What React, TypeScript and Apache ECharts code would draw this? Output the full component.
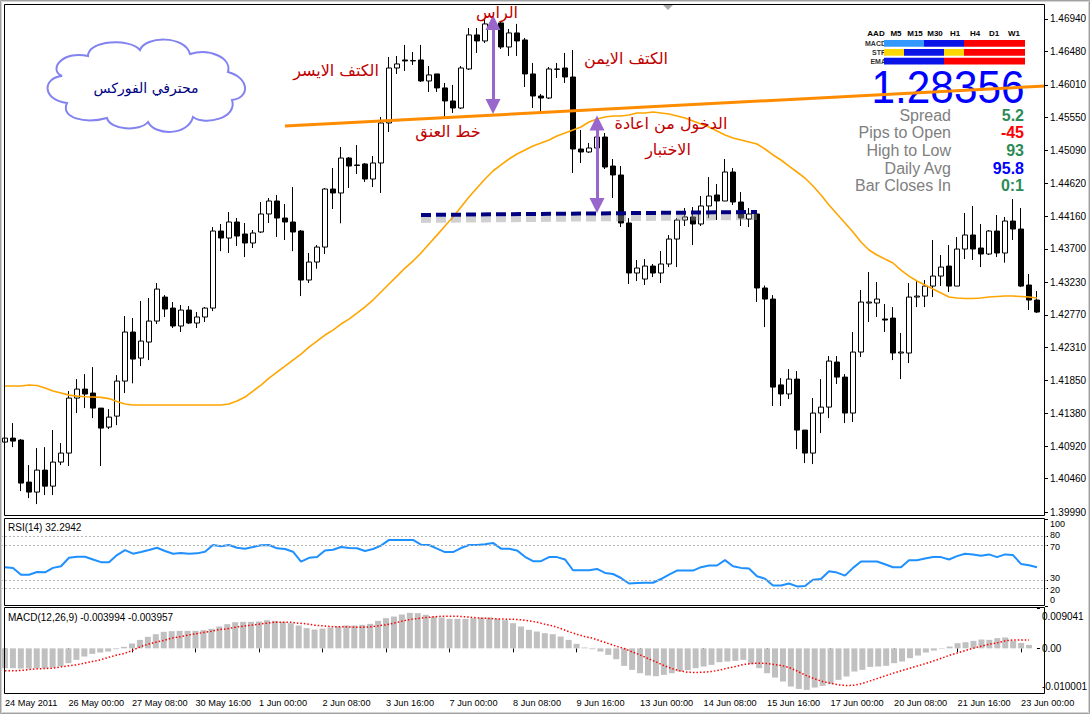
import React, { useEffect, useRef } from "react";
import * as echarts from "echarts";

// ---------- data ----------
const xTickLabels = [
  "24 May 2011", "26 May 00:00", "27 May 08:00", "30 May 16:00", "1 Jun 00:00",
  "2 Jun 08:00", "3 Jun 16:00", "7 Jun 00:00", "8 Jun 08:00", "9 Jun 16:00",
  "13 Jun 00:00", "14 Jun 08:00", "15 Jun 16:00", "17 Jun 00:00", "20 Jun 08:00",
  "21 Jun 16:00", "23 Jun 00:00",
];

const priceTicks = [
  1.3999, 1.4046, 1.4092, 1.4138, 1.4185, 1.4231, 1.4277, 1.4323,
  1.437, 1.4416, 1.4462, 1.4509, 1.4555, 1.4601, 1.4648, 1.4694,
];
const rsiTicks = [0, 20, 30, 70, 80, 100];
const rsiLevels = [80, 70, 30, 20];
const macdTicks = [-0.010001, 0, 0.009041];
const macdTickLabels = ["-0.010001", "0.00", "0.009041"];

// [open, close, low, high]
const candles = [
  [1.40976, 1.41032, 1.40793, 1.413], [1.41032, 1.4099, 1.40905, 1.41244],
  [1.41004, 1.40398, 1.40285, 1.41018], [1.40412, 1.40271, 1.40186, 1.40652],
  [1.40271, 1.40581, 1.40102, 1.40891], [1.40581, 1.40355, 1.40229, 1.40905],
  [1.40355, 1.40694, 1.40229, 1.41145], [1.40694, 1.40821, 1.40652, 1.40962],
  [1.40821, 1.41596, 1.40638, 1.41695], [1.41596, 1.41723, 1.41385, 1.41864],
  [1.41723, 1.41653, 1.41455, 1.41934], [1.41667, 1.41455, 1.41314, 1.42033],
  [1.41455, 1.41173, 1.40638, 1.41455], [1.41187, 1.41328, 1.41159, 1.41441],
  [1.41342, 1.41836, 1.41215, 1.4192], [1.41836, 1.42527, 1.41667, 1.42752],
  [1.42527, 1.42146, 1.41804, 1.42724], [1.4216, 1.424, 1.42047, 1.42964],
  [1.42386, 1.42682, 1.42132, 1.43006], [1.42682, 1.43133, 1.4264, 1.43218],
  [1.4302, 1.42851, 1.42738, 1.43048], [1.42865, 1.42612, 1.42584, 1.4295],
  [1.42612, 1.42837, 1.42527, 1.42908], [1.42837, 1.42654, 1.4264, 1.42893],
  [1.42654, 1.42739, 1.42584, 1.42809], [1.42739, 1.42865, 1.42668, 1.42879],
  [1.42865, 1.43951, 1.42823, 1.44007], [1.43951, 1.43852, 1.43667, 1.4405],
  [1.43852, 1.44078, 1.43641, 1.44219], [1.44078, 1.4388, 1.43739, 1.44134],
  [1.43909, 1.43782, 1.43584, 1.44064], [1.43782, 1.43923, 1.43711, 1.43965],
  [1.43937, 1.44191, 1.43923, 1.4436], [1.44191, 1.44374, 1.44064, 1.44416],
  [1.44374, 1.44134, 1.43867, 1.44459], [1.44134, 1.44078, 1.43824, 1.44332],
  [1.44078, 1.43937, 1.43667, 1.44571], [1.43951, 1.4326, 1.43034, 1.43965],
  [1.4326, 1.43514, 1.43218, 1.43641], [1.43514, 1.43725, 1.4342, 1.43753],
  [1.43725, 1.44543, 1.43627, 1.44557], [1.44543, 1.44487, 1.44261, 1.44839],
  [1.44487, 1.4498, 1.4406, 1.45135], [1.4498, 1.44867, 1.44557, 1.44994],
  [1.44882, 1.44875, 1.44755, 1.45163], [1.44896, 1.44684, 1.44642, 1.4491],
  [1.44684, 1.4491, 1.44571, 1.45008], [1.4491, 1.45474, 1.44487, 1.45558],
  [1.45474, 1.46249, 1.45347, 1.46404], [1.46249, 1.46306, 1.46165, 1.46418],
  [1.46362, 1.46348, 1.46207, 1.46574], [1.46348, 1.46355, 1.46292, 1.46475],
  [1.46362, 1.46066, 1.46052, 1.46574], [1.46066, 1.46151, 1.45911, 1.46277],
  [1.46165, 1.45968, 1.45911, 1.46165], [1.45968, 1.45784, 1.45558, 1.46038],
  [1.45784, 1.45685, 1.45615, 1.4601], [1.45685, 1.46249, 1.45671, 1.46277],
  [1.46235, 1.46715, 1.46221, 1.46813], [1.46715, 1.4663, 1.46461, 1.46813],
  [1.4663, 1.4687, 1.46602, 1.4694], [1.4687, 1.46898, 1.46644, 1.46982],
  [1.46884, 1.46545, 1.46517, 1.46898], [1.46545, 1.46743, 1.46418, 1.46799],
  [1.46743, 1.4663, 1.46418, 1.4687], [1.46644, 1.46165, 1.45981, 1.46672],
  [1.46165, 1.45854, 1.45685, 1.4632], [1.45854, 1.45826, 1.45629, 1.45883],
  [1.45826, 1.46235, 1.45812, 1.46263], [1.46235, 1.4623, 1.46108, 1.4632],
  [1.46249, 1.46122, 1.46038, 1.46461], [1.46122, 1.45107, 1.44769, 1.46503],
  [1.45107, 1.45065, 1.4491, 1.45375], [1.45065, 1.45121, 1.45051, 1.45192],
  [1.45121, 1.45276, 1.45093, 1.45347], [1.45276, 1.44853, 1.44825, 1.45333],
  [1.44867, 1.44741, 1.44416, 1.44966], [1.44741, 1.44064, 1.44007, 1.44867],
  [1.44064, 1.43359, 1.43204, 1.44134], [1.43359, 1.43429, 1.43246, 1.43542],
  [1.43274, 1.43457, 1.4319, 1.43556], [1.43457, 1.43359, 1.43302, 1.43486],
  [1.43359, 1.43486, 1.43218, 1.43669], [1.43486, 1.43838, 1.43443, 1.43895],
  [1.43838, 1.44106, 1.43443, 1.44134], [1.44106, 1.44149, 1.44022, 1.44275],
  [1.44149, 1.4405, 1.43753, 1.44289], [1.4405, 1.44304, 1.44022, 1.44444],
  [1.44304, 1.44444, 1.44134, 1.44712], [1.44459, 1.44374, 1.44106, 1.44614],
  [1.44374, 1.44783, 1.44374, 1.44966], [1.44783, 1.4436, 1.44318, 1.44839],
  [1.4436, 1.44134, 1.44022, 1.44501], [1.4412, 1.44191, 1.44007, 1.44275],
  [1.44191, 1.43148, 1.4295, 1.44191], [1.43148, 1.42992, 1.42597, 1.43182],
  [1.42992, 1.41751, 1.41485, 1.43048], [1.41782, 1.41654, 1.41485, 1.41878],
  [1.41654, 1.41864, 1.41582, 1.42005], [1.41864, 1.41145, 1.40877, 1.41977],
  [1.41145, 1.40821, 1.4068, 1.41145], [1.40821, 1.41385, 1.40666, 1.41596],
  [1.41385, 1.41469, 1.41103, 1.41864], [1.41469, 1.42118, 1.41314, 1.42188],
  [1.42104, 1.41892, 1.41794, 1.42188], [1.41892, 1.41385, 1.41244, 1.41934],
  [1.41385, 1.42245, 1.41258, 1.42527], [1.42245, 1.4295, 1.42174, 1.43119],
  [1.42936, 1.4295, 1.42668, 1.43373], [1.42936, 1.42992, 1.42739, 1.43232],
  [1.42711, 1.42696, 1.42527, 1.42922], [1.42724, 1.42231, 1.42132, 1.42879],
  [1.42231, 1.42245, 1.41864, 1.42513], [1.42231, 1.4302, 1.4209, 1.43218],
  [1.4302, 1.43034, 1.42879, 1.4326], [1.43034, 1.43175, 1.42879, 1.4326],
  [1.43175, 1.43316, 1.4302, 1.43824], [1.43316, 1.43443, 1.43175, 1.43613],
  [1.43457, 1.43175, 1.43091, 1.43753], [1.43175, 1.43697, 1.43175, 1.43866],
  [1.43697, 1.43895, 1.43556, 1.44205], [1.43895, 1.43697, 1.43542, 1.44304],
  [1.43711, 1.43627, 1.43443, 1.4405], [1.43627, 1.43951, 1.43613, 1.43965],
  [1.43951, 1.43641, 1.43584, 1.44177], [1.43641, 1.44092, 1.43505, 1.44149],
  [1.44092, 1.43979, 1.43824, 1.44402], [1.43979, 1.43175, 1.43161, 1.44275],
  [1.4319, 1.42978, 1.42837, 1.43345], [1.42978, 1.42809, 1.42795, 1.43105],
];

const movingAvg = [
  1.41766, 1.41766, 1.41766, 1.4178, 1.41773, 1.41737, 1.41695, 1.41667, 1.41638, 1.41624,
  1.41615, 1.41611, 1.41606, 1.41589, 1.41547, 1.41512, 1.41498, 1.41498, 1.41498, 1.41498,
  1.41498, 1.41498, 1.41498, 1.41498, 1.41498, 1.41498, 1.41498, 1.41498, 1.41512, 1.41554,
  1.41611, 1.41695, 1.4178, 1.41878, 1.41963, 1.42047, 1.42132, 1.42217, 1.42315, 1.424,
  1.42485, 1.42555, 1.4264, 1.4271, 1.42795, 1.42881, 1.42978, 1.43091, 1.43204, 1.43316,
  1.43429, 1.43528, 1.43641, 1.43768, 1.43893, 1.44022, 1.44149, 1.44291, 1.44431, 1.44557,
  1.44684, 1.44797, 1.44882, 1.44966, 1.45037, 1.45093, 1.4515, 1.45192, 1.45234, 1.4529,
  1.45333, 1.45375, 1.45417, 1.45488, 1.4553, 1.45559, 1.45573, 1.45573, 1.45587, 1.45615,
  1.45615, 1.45629, 1.45615, 1.45601, 1.45573, 1.45544, 1.45502, 1.4546, 1.45417, 1.45361,
  1.45305, 1.45262, 1.45234, 1.45206, 1.45178, 1.45107, 1.45023, 1.44952, 1.44867, 1.44783,
  1.44698, 1.44585, 1.44459, 1.44317, 1.4419, 1.44065, 1.43936, 1.43796, 1.43683, 1.43613,
  1.43556, 1.435, 1.43401, 1.43316, 1.43246, 1.4319, 1.43133, 1.43077, 1.4302, 1.43006,
  1.42999, 1.42999, 1.43006, 1.4302, 1.43027, 1.43034, 1.43034, 1.43027, 1.4302, 1.43006,
];

const rsi = [
  44.6, 43.8, 36.0, 36.0, 39.1, 38.7, 43.8, 45.7, 55.4, 56.6,
  56.6, 53.5, 50.4, 50.4, 58.5, 64.3, 60.1, 62.0, 64.3, 67.0,
  63.2, 60.1, 60.8, 60.1, 60.5, 62.4, 70.1, 68.6, 70.1, 67.0,
  65.9, 67.8, 69.8, 70.1, 66.3, 65.5, 62.4, 51.1, 55.4, 56.2,
  63.9, 64.7, 67.8, 66.6, 66.3, 63.2, 65.5, 69.4, 76.0, 76.0,
  76.0, 76.0, 70.5, 70.1, 65.9, 62.0, 62.0, 66.6, 70.1, 70.1,
  70.9, 72.5, 65.9, 65.9, 63.9, 56.6, 51.5, 51.5, 56.2, 56.2,
  53.5, 41.1, 41.1, 41.1, 42.6, 38.0, 36.8, 32.2, 25.9, 26.3,
  26.7, 26.7, 31.0, 36.0, 40.7, 40.7, 40.7, 44.6, 46.5, 46.5,
  52.7, 45.7, 43.8, 43.0, 34.1, 31.4, 23.6, 23.6, 25.9, 22.5,
  22.9, 30.2, 31.0, 39.9, 38.4, 34.9, 43.8, 51.1, 51.1, 51.1,
  48.0, 44.6, 44.6, 52.7, 52.7, 54.6, 56.2, 56.2, 53.5, 57.3,
  60.1, 59.3, 57.7, 59.3, 56.2, 59.3, 58.5, 48.4, 46.9, 44.6,
];

const macdHist = [
  -0.00444, -0.00444, -0.00452, -0.00452, -0.00444, -0.00444, -0.0043, -0.004, -0.00332, -0.00258,
  -0.00183, -0.00123, -0.00093, -0.00071, -0.00019, 0.00034, 0.00108, 0.0019, 0.00258, 0.00317,
  0.0037, 0.00385, 0.00392, 0.00392, 0.00392, 0.00407, 0.00437, 0.00489, 0.00542, 0.00586,
  0.00594, 0.00594, 0.00601, 0.00631, 0.00616, 0.00594, 0.00564, 0.00512, 0.00452, 0.00422,
  0.00444, 0.00467, 0.00489, 0.00512, 0.00512, 0.00527, 0.00549, 0.00616, 0.00676, 0.00713,
  0.00758, 0.00796, 0.00788, 0.00751, 0.00713, 0.00691, 0.00661, 0.00661, 0.00661, 0.00676,
  0.00691, 0.00691, 0.00661, 0.00631, 0.00564, 0.00489, 0.00415, 0.00377, 0.0034, 0.00317,
  0.00265, 0.0019, 0.00101, 0.00019, -0.00019, -0.00071, -0.00146, -0.00243, -0.00392, -0.00482,
  -0.00557, -0.00609, -0.00624, -0.00594, -0.00557, -0.00519, -0.00489, -0.00444, -0.00407, -0.0037,
  -0.0031, -0.00295, -0.0028, -0.00258, -0.00355, -0.00444, -0.00557, -0.00654, -0.00743, -0.00855,
  -0.00908, -0.0093, -0.00878, -0.0084, -0.00804, -0.00706, -0.00631, -0.00519, -0.00482, -0.00415,
  -0.00407, -0.00392, -0.00332, -0.00295, -0.0022, -0.00161, -0.00093, -0.00049, -0.00011, 0.00041,
  0.00116, 0.00138, 0.00168, 0.00198, 0.0019, 0.00228, 0.00243, 0.00168, 0.00123, 0.00078,
];

const macdSignal = [
  -0.00504, -0.00504, -0.00497, -0.00474, -0.00459, -0.00452, -0.00444, -0.00415, -0.00392, -0.0037,
  -0.00332, -0.00295, -0.00258, -0.00205, -0.00153, -0.00116, -0.00049, 0.00034, 0.00093, 0.00138,
  0.00176, 0.00228, 0.00258, 0.00295, 0.00325, 0.00355, 0.00385, 0.00422, 0.00437, 0.00474,
  0.00497, 0.00519, 0.00542, 0.00564, 0.00586, 0.00586, 0.00586, 0.00564, 0.00549, 0.00519,
  0.00504, 0.00489, 0.00482, 0.00482, 0.00474, 0.00474, 0.00482, 0.00504, 0.00527, 0.00564,
  0.00609, 0.00646, 0.00669, 0.00691, 0.00706, 0.00721, 0.00721, 0.00721, 0.00706, 0.00691,
  0.00676, 0.00669, 0.00661, 0.00654, 0.00654, 0.00639, 0.00616, 0.00586, 0.00542, 0.00504,
  0.00444, 0.00377, 0.00317, 0.00265, 0.00228, 0.00168, 0.00108, 0.00049, -0.00004, -0.00078,
  -0.00146, -0.00228, -0.00302, -0.00385, -0.00452, -0.00504, -0.00534, -0.00542, -0.00534, -0.00519,
  -0.00489, -0.00444, -0.00407, -0.00362, -0.0034, -0.00332, -0.0034, -0.00362, -0.00392, -0.00444,
  -0.00527, -0.00616, -0.00684, -0.00743, -0.00781, -0.00818, -0.00833, -0.00825, -0.00788, -0.00728,
  -0.00669, -0.00609, -0.00549, -0.00497, -0.00444, -0.00392, -0.0034, -0.0028, -0.0022, -0.00153,
  -0.00101, -0.00049, 0.00004, 0.00049, 0.00093, 0.00123, 0.00168, 0.0019, 0.0019, 0.0019,
];

// pattern annotations: [barIndex, price]
const necklinePts = [[35, 1.45431], [130, 1.45995]];
const retestPts = [[52, 1.44177], [93.5, 1.44219]];
const retestShadowPts = [[52, 1.44107], [93.5, 1.44149]];
const headArrow = [[61, 1.4689], [61, 1.45706]];
const retestArrow = [[74, 1.45473], [74, 1.44311]];

// H4 bar times (weekdays only), plus one empty slot on the right
const categories: string[] = [];
{
  let t = Date.UTC(2011, 4, 24, 16);
  const pad = (n: number) => String(n).padStart(2, "0");
  while (categories.length < 131) {
    const d = new Date(t);
    const day = d.getUTCDay();
    if (day !== 0 && day !== 6) {
      categories.push(`${d.getUTCFullYear()}.${pad(d.getUTCMonth() + 1)}.${pad(d.getUTCDate())} ${pad(d.getUTCHours())}:00`);
    }
    t += 4 * 3600 * 1000;
  }
}

const CLOUD_D =
  "M62 76 C48 70 62 50 88 56 C88 40 130 38 140 50 C145 36 185 35 190 54 C210 48 232 58 228 72 " +
  "C250 78 250 98 232 100 C238 118 205 126 193 117 C188 136 155 136 148 122 C140 132 110 130 107 118 " +
  "C85 124 60 118 67 103 C42 100 42 78 62 76 Z";

let cloudRegistered = false;
function registerCloud() {
  if (cloudRegistered) return;
  echarts.graphic.registerShape("cloud", echarts.graphic.extendPath(CLOUD_D, {}) as any);
  cloudRegistered = true;
}

const FONT = "Liberation Sans";
const AR_FONT = "DejaVu Sans";
const RED = "#C00000";

function buildGraphics(): any[] {
  const g: any[] = [];
  // cloud
  g.push({ type: "cloud", x: 0, y: 0, z: 1, style: { fill: "#ffffff", stroke: "#8282f0", lineWidth: 2 } });
  g.push({ type: "text", x: 146, y: 88, z: 1, style: { text: "محترفي الفوركس", fill: "#000080", font: `14px '${AR_FONT}'`, align: "center", verticalAlign: "middle" } });
  // arabic annotations
  const ar: [string, number, number][] = [
    ["الكتف الايسر", 336, 70],
    ["الراس", 497, 12],
    ["الكتف الايمن", 626, 58],
    ["خط العنق", 448, 131],
    ["الدخول من اعادة", 671, 123],
    ["الاختبار", 668, 149],
  ];
  ar.forEach(([t, x, y]) =>
    g.push({ type: "text", x, y, z: 20, style: { text: t, fill: RED, font: `16px '${AR_FONT}'`, align: "center", verticalAlign: "middle" } })
  );
  // info table header
  const hdr: [string, number][] = [["AAD", 876], ["M5", 896], ["M15", 915], ["M30", 935], ["H1", 955], ["H4", 975], ["D1", 994], ["W1", 1014]];
  hdr.forEach(([t, x]) =>
    g.push({ type: "text", x, y: 33, z: 1, style: { text: t, fill: "#000", font: `bold 8px '${FONT}'`, align: "center", verticalAlign: "middle" } })
  );
  const rowLbl: [string, number][] = [["MACD", 43.5], ["STR", 52.5], ["EMA", 61]];
  rowLbl.forEach(([t, y]) =>
    g.push({ type: "text", x: 886, y, z: 1, style: { text: t, fill: "#333", font: `bold 7px '${FONT}'`, align: "right", verticalAlign: "middle" } })
  );
  const LB = "#3399FF", BL = "#0A14E6", RD = "#FF0000", YE = "#FFD700";
  const rows: [number, [number, number, string][]][] = [
    [40, [[884, 924, LB], [924, 964, BL], [964, 1025, RD]]],
    [49, [[884, 904, YE], [904, 944, BL], [944, 964, YE], [964, 1025, RD]]],
    [57.7, [[884, 944, BL], [944, 1025, RD]]],
  ];
  rows.forEach(([y, segs]) =>
    segs.forEach(([x0, x1, c]) =>
      g.push({ type: "rect", z: 2, shape: { x: x0, y, width: x1 - x0, height: 6.7 }, style: { fill: c } })
    )
  );
  // big price
  g.push({ type: "text", x: 948, y: 87, scaleX: 0.92, z: 1, style: { text: "1.28356", fill: "#0000FF", font: `46px '${FONT}'`, align: "center", verticalAlign: "middle" } });
  const stats: [string, string, string, number][] = [
    ["Spread", "5.2", "#2E8B57", 115],
    ["Pips to Open", "-45", "#FF0000", 132.7],
    ["High to Low", "93", "#2E8B57", 150.3],
    ["Daily Avg", "95.8", "#0000FF", 168.3],
    ["Bar Closes In", "0:1", "#2E8B57", 185.7],
  ];
  stats.forEach(([l, v, c, y]) => {
    g.push({ type: "text", x: 951, y, z: 1, style: { text: l, fill: "#808080", font: `16px '${FONT}'`, align: "right", verticalAlign: "middle" } });
    g.push({ type: "text", x: 1024, y, z: 1, style: { text: v, fill: c, font: `bold 16px '${FONT}'`, align: "right", verticalAlign: "middle" } });
  });
  // indicator captions
  g.push({ type: "text", x: 8, y: 527, z: 30, style: { text: "RSI(14) 32.2942", fill: "#000", font: `10px '${FONT}'`, align: "left", verticalAlign: "middle" } });
  g.push({ type: "text", x: 8, y: 617, z: 30, style: { text: "MACD(12,26,9) -0.003994 -0.003957", fill: "#000", font: `10px '${FONT}'`, align: "left", verticalAlign: "middle" } });
  // shift marker
  g.push({ type: "polygon", z: 30, shape: { points: [[662, 4], [674, 4], [668, 10]] }, style: { fill: "#a8a8a8" } });
  // frames
  const frames = [[4.5, 4.5, 1040, 511], [4.5, 518.5, 1040, 87], [4.5, 607.5, 1040, 86]];
  frames.forEach(([x, y, w, h]) =>
    g.push({ type: "rect", z: 40, silent: true, shape: { x, y, width: w, height: h }, style: { fill: "none", stroke: "#000", lineWidth: 1 } })
  );
  g.push({ type: "rect", z: 41, silent: true, shape: { x: 0.5, y: 0.5, width: 1089, height: 713 }, style: { fill: "none", stroke: "#a0a0a0", lineWidth: 1 } });
  g.push({ type: "rect", z: 41, silent: true, shape: { x: 1.5, y: 1.5, width: 1087, height: 711 }, style: { fill: "none", stroke: "#d4d4d4", lineWidth: 1 } });
  return g;
}

export default function App() {
  const ref = useRef<HTMLDivElement>(null);

  useEffect(() => {
    if (!ref.current) return;
    registerCloud();
    const chart = echarts.init(ref.current, null, { renderer: "svg" });
    const axisFont = { fontSize: 10, color: "#000", fontFamily: FONT };
    const smallRich = (pt: number, pb: number) => ({ fontSize: 9, fontFamily: FONT, color: "#000", padding: [pt, 0, pb, 0] });

    const option: any = {
      animation: false,
      backgroundColor: "#ffffff",
      grid: [
        { left: 1, top: 4, width: 1048, height: 512 },
        { left: 1, top: 519, width: 1048, height: 87 },
        { left: 1, top: 608, width: 1048, height: 85 },
      ],
      xAxis: [
        { type: "category", gridIndex: 0, data: categories, show: false },
        { type: "category", gridIndex: 1, data: categories, show: false },
        {
          type: "category",
          gridIndex: 2,
          data: categories,
          axisLine: { show: false },
          axisTick: { show: true, interval: 7, alignWithLabel: true, length: 4, lineStyle: { color: "#000" } },
          axisLabel: {
            fontSize: 9.2,
            color: "#000",
            fontFamily: FONT,
            interval: 7,
            align: "left",
            margin: 5,
            formatter: (_v: string, idx: number) => (idx % 8 === 0 && xTickLabels[idx / 8]) || "",
          },
          splitLine: { show: false },
        },
      ],
      yAxis: [
        {
          type: "value",
          gridIndex: 0,
          position: "right",
          offset: -4,
          min: 1.39934,
          max: 1.47151,
          axisLine: { show: false },
          splitLine: { show: false },
          axisTick: { show: true, length: 3, customValues: priceTicks, lineStyle: { color: "#000" } },
          axisLabel: { ...axisFont, margin: 5, customValues: priceTicks, formatter: (v: number) => v.toFixed(5) },
        },
        {
          type: "value",
          gridIndex: 1,
          position: "right",
          offset: -4,
          min: 0,
          max: 100,
          axisLine: { show: false },
          splitLine: { show: false },
          axisTick: { show: true, length: 3, customValues: rsiTicks, lineStyle: { color: "#000" } },
          axisLabel: {
            fontSize: 9,
            color: "#000",
            fontFamily: FONT,
            margin: 5,
            customValues: rsiTicks,
            formatter: (v: number) => {
              if (v === 100) return "{t|100}";
              if (v === 0) return "{b|0}";
              if (v === 80 || v === 30) return "{u|" + v + "}";
              return "{d|" + v + "}";
            },
            rich: {
              t: smallRich(10, 0),
              b: smallRich(0, 12),
              u: smallRich(0, 3),
              d: smallRich(3, 0),
            },
          },
        },
        {
          type: "value",
          gridIndex: 2,
          position: "right",
          offset: -4,
          min: -0.010001,
          max: 0.009041,
          axisLine: { show: false },
          splitLine: { show: false },
          axisTick: { show: true, length: 3, customValues: macdTicks, lineStyle: { color: "#000" } },
          axisLabel: {
            ...axisFont,
            margin: 5,
            customValues: macdTicks,
            formatter: (v: number) => {
              let best = 0;
              macdTicks.forEach((t, i) => {
                if (Math.abs(t - v) < Math.abs(macdTicks[best] - v)) best = i;
              });
              if (best === 2) return "{t|" + macdTickLabels[best] + "}";
              if (best === 0) return "{b|" + macdTickLabels[best] + "}";
              return macdTickLabels[best];
            },
            rich: {
              t: { fontSize: 10, fontFamily: FONT, color: "#000", padding: [16, 0, 0, 0] },
              b: { fontSize: 10, fontFamily: FONT, color: "#000", padding: [0, 0, 14, 0] },
            },
          },
        },
      ],
      series: [
        {
          type: "candlestick",
          xAxisIndex: 0,
          yAxisIndex: 0,
          data: candles,
          barWidth: 5,
          z: 3,
          itemStyle: { color: "#ffffff", color0: "#000000", borderColor: "#000000", borderColor0: "#000000", borderWidth: 1 },
          markLine: {
            silent: true,
            symbol: ["triangle", "triangle"],
            symbolSize: 15,
            label: { show: false },
            lineStyle: { color: "#9966CC", width: 3, type: "solid" },
            z: 10,
            data: [
              [{ coord: [categories[headArrow[0][0]], headArrow[0][1]] }, { coord: [categories[headArrow[1][0]], headArrow[1][1]] }],
              [{ coord: [categories[retestArrow[0][0]], retestArrow[0][1]] }, { coord: [categories[retestArrow[1][0]], retestArrow[1][1]] }],
            ],
          },
        },
        {
          type: "line",
          xAxisIndex: 0,
          yAxisIndex: 0,
          data: movingAvg,
          symbol: "none",
          z: 4,
          lineStyle: { color: "#FFA500", width: 1.6 },
        },
        {
          type: "line",
          xAxisIndex: 0,
          yAxisIndex: 0,
          data: necklinePts,
          symbol: "none",
          z: 6,
          lineStyle: { color: "#FF8C00", width: 3 },
        },
        {
          type: "line",
          xAxisIndex: 0,
          yAxisIndex: 0,
          data: retestShadowPts,
          symbol: "none",
          z: 5,
          lineStyle: { color: "rgba(150,150,150,0.45)", width: 6, type: [10, 5] },
        },
        {
          type: "line",
          xAxisIndex: 0,
          yAxisIndex: 0,
          data: retestPts,
          symbol: "none",
          z: 6,
          lineStyle: { color: "#000080", width: 4, type: [10, 5] },
        },
        {
          type: "line",
          xAxisIndex: 1,
          yAxisIndex: 1,
          data: rsi,
          symbol: "none",
          z: 4,
          lineStyle: { color: "#1E90FF", width: 2 },
          markLine: {
            silent: true,
            symbol: "none",
            label: { show: false },
            lineStyle: { color: "#b4b4b4", width: 1, type: [2, 2] },
            data: rsiLevels.map((v) => ({ yAxis: v })),
          },
        },
        {
          type: "bar",
          xAxisIndex: 2,
          yAxisIndex: 2,
          data: macdHist,
          barWidth: 6,
          itemStyle: { color: "#C0C0C0" },
        },
        {
          type: "line",
          xAxisIndex: 2,
          yAxisIndex: 2,
          data: macdSignal,
          symbol: "none",
          z: 4,
          lineStyle: { color: "#FF0000", width: 1.5, type: [1.5, 2] },
        },
      ],
      graphic: buildGraphics(),
    };

    chart.setOption(option);
    return () => chart.dispose();
  }, []);

  return (
    <div
      ref={ref}
      style={{ position: "absolute", left: 0, top: 0, width: 1090, height: 714, background: "#fff" }}
    />
  );
}
